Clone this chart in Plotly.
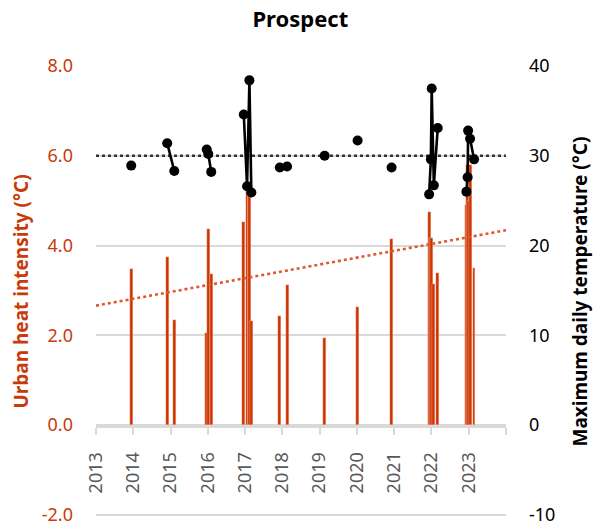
import plotly.graph_objects as go

# Observation dates (one entry per hot day sampled at the Prospect station)
obs_dates = [
    "2013-12-12",
    "2014-11-30", "2015-02-07",
    "2015-12-22", "2016-01-06", "2016-02-04",
    "2016-12-19", "2017-01-20", "2017-02-12", "2017-03-03",
    "2017-12-07", "2018-02-16",
    "2019-02-19",
    "2020-01-08",
    "2020-12-06",
    "2021-12-09", "2021-12-26", "2022-01-03", "2022-01-24", "2022-03-03",
    "2022-12-09", "2022-12-21", "2022-12-26", "2023-01-14", "2023-02-22",
]
# Heat-wave event each observation belongs to (points in one event are joined)
event_id = [0, 1, 1, 2, 2, 2, 3, 3, 3, 3, 4, 4, 5, 6, 7,
            8, 8, 8, 8, 8, 9, 9, 9, 9, 9]

# Urban heat intensity (°C), left axis
uhi_values = [3.47, 3.75, 2.35, 2.06, 4.36, 3.36, 4.52, 5.3, 5.3, 2.32,
              2.43, 3.12, 1.94, 2.63, 4.14, 4.74, 4.16, 4.16, 3.14, 3.39,
              4.9, 5.8, 5.0, 5.8, 3.5]

# Maximum daily temperature (°C), right axis
tmax_values = [28.9, 31.4, 28.3, 30.7, 30.2, 28.2, 34.6, 26.6, 38.4, 25.9,
               28.7, 28.8, 30.0, 31.7, 28.7, 25.7, 29.6, 37.5, 26.7, 33.1,
               26.0, 27.6, 32.8, 31.9, 29.6]

# Linear trend of heat intensity across the period
trend_dates = ["2013-01-01", "2024-01-01"]
trend_values = [2.66, 4.34]

# Heat-wave threshold temperature (°C)
threshold_dates = ["2013-01-01", "2024-01-01"]
threshold_values = [30, 30]

year_ticks = ["2013-01-01", "2014-01-01", "2015-01-01", "2016-01-01",
              "2017-01-01", "2018-01-01", "2019-01-01", "2020-01-01",
              "2021-01-01", "2022-01-01", "2023-01-01", "2024-01-01"]
year_labels = ["2013", "2014", "2015", "2016", "2017", "2018", "2019",
               "2020", "2021", "2022", "2023", ""]

uhi_ticks = [-2, 0, 2, 4, 6, 8]
uhi_tick_labels = ["-2.0", "0.0", "2.0", "4.0", "6.0", "8.0"]
tmax_ticks = [-10, 0, 10, 20, 30, 40]
tmax_tick_labels = ["-10", "0", "10", "20", "30", "40"]

ORANGE = "#CC3300"
ORANGE_TEXT = "#C83A0A"
GRID = "#D9D9D9"
FONT = "Noto Sans"

# Break the temperature line between separate events
line_x, line_y = [], []
prev = None
for d, t, e in zip(obs_dates, tmax_values, event_id):
    if prev is not None and e != prev:
        line_x.append(None)
        line_y.append(None)
    line_x.append(d)
    line_y.append(t)
    prev = e

DAY_MS = 86400000

fig = go.Figure()

fig.add_trace(go.Bar(
    x=obs_dates, y=uhi_values, yaxis="y",
    width=[28 * DAY_MS] * len(obs_dates),
    marker=dict(color=ORANGE, line=dict(color="rgba(255,215,200,0.9)", width=0.4)),
    showlegend=False,
))

fig.add_trace(go.Scatter(
    x=trend_dates, y=trend_values, yaxis="y", mode="lines",
    line=dict(color="#E0592E", width=2.6, dash="dot"),
    showlegend=False,
))

fig.add_trace(go.Scatter(
    x=threshold_dates, y=threshold_values, yaxis="y2", mode="lines",
    line=dict(color="#333333", width=2.4, dash="dot"),
    showlegend=False,
))

fig.add_trace(go.Scatter(
    x=line_x, y=line_y, yaxis="y2", mode="lines+markers",
    connectgaps=False,
    line=dict(color="black", width=2.6),
    marker=dict(color="black", size=10),
    showlegend=False,
))

fig.update_layout(
    width=597, height=531,
    margin=dict(l=96, r=91, t=66, b=14, autoexpand=False),
    paper_bgcolor="white", plot_bgcolor="white",
    font=dict(family=FONT, size=18, color="black"),
    bargap=0,
    title=dict(text="<b>Prospect</b>", x=0.503, xanchor="center",
               y=1 - 19 / 531, yref="container", yanchor="middle",
               font=dict(family=FONT, size=22, color="black")),
    xaxis=dict(
        type="date",
        range=["2013-01-01", "2024-01-01"],
        tickmode="array", tickvals=year_ticks, ticktext=year_labels,
        tickangle=-90,
        tickfont=dict(family=FONT, size=18, color="#595959"),
        showgrid=False, zeroline=False,
        showline=True, linecolor=GRID, linewidth=1.5,
        ticks="outside", ticklen=7, tickcolor=GRID, tickwidth=1.5,
        ticklabelstandoff=10,
        anchor="free", position=0.2 * 10 / 10.05, automargin=False,
    ),
    yaxis=dict(
        range=[-2.05, 8],
        tickmode="array", tickvals=uhi_ticks, ticktext=uhi_tick_labels,
        tickfont=dict(family=FONT, size=18, color=ORANGE_TEXT),
        showgrid=True, gridcolor=GRID, gridwidth=1.5,
        zeroline=False, showline=False, ticks="",
        ticklabelstandoff=22, automargin=False,
        title=dict(text="<b>Urban heat intensity (°C)</b>", standoff=8,
                   font=dict(family=FONT, size=19, color=ORANGE_TEXT)),
    ),
    yaxis2=dict(
        range=[-10.25, 40],
        tickmode="array", tickvals=tmax_ticks, ticktext=tmax_tick_labels,
        overlaying="y", side="right",
        tickfont=dict(family=FONT, size=18, color="black"),
        showgrid=False, zeroline=False, showline=False, ticks="",
        ticklabelstandoff=22, automargin=False,
        title=dict(text="<b>Maximum daily temperature (°C)</b>", standoff=19,
                   font=dict(family=FONT, size=19, color="black")),
    ),
)

fig.write_html("out.html")
